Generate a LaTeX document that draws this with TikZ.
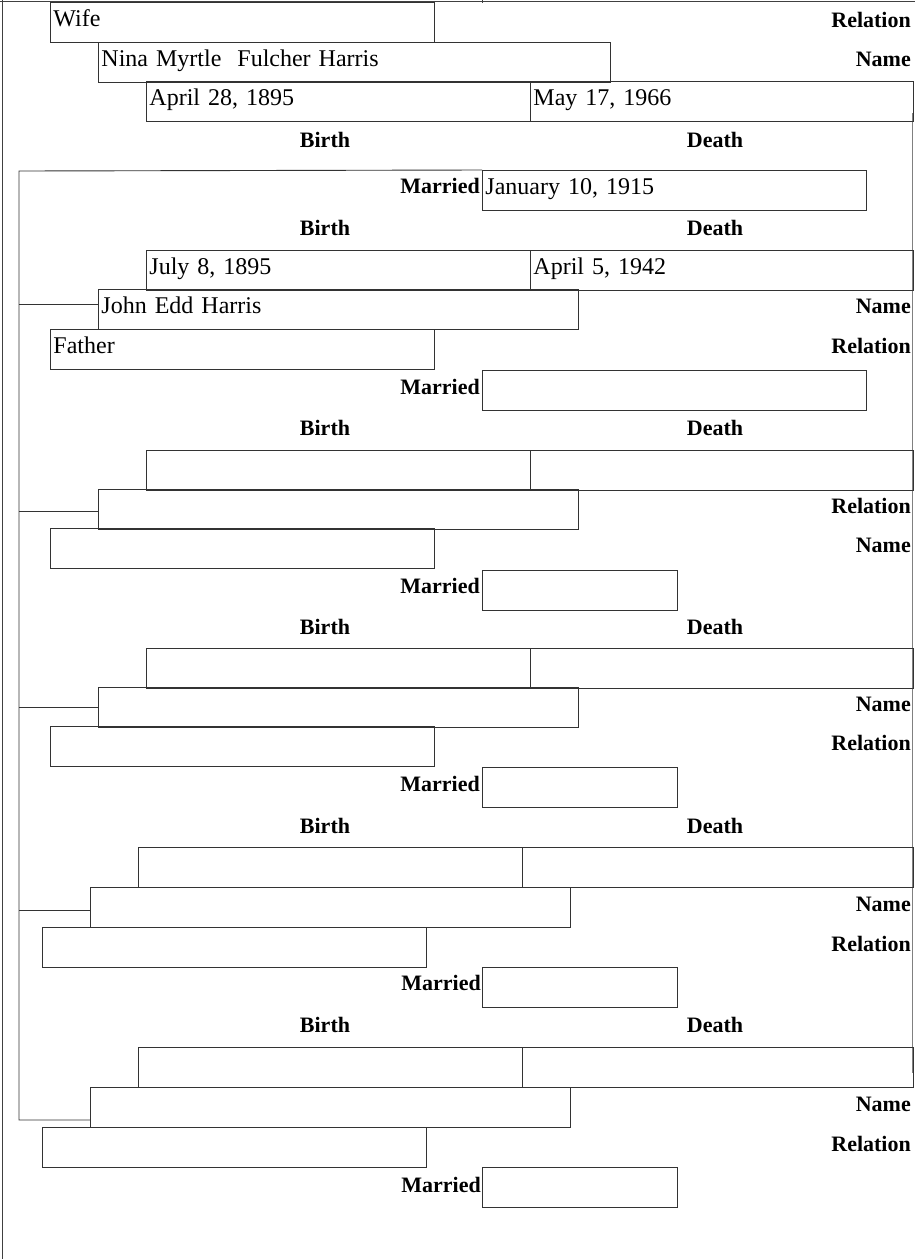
\documentclass[tikz,border=0pt]{standalone}
\usepackage{fontspec}
\setmainfont{Liberation Serif}
\begin{document}
\begin{tikzpicture}[x=1pt,y=-1pt,
 fbox/.style={draw=black!80, line width=0.9pt, anchor=north west, inner xsep=3pt, inner ysep=0pt, minimum height=39.5pt, text height=18pt, text depth=10pt, align=left, font=\fontsize{24}{28}\selectfont},
 lbl/.style={font=\fontsize{22}{26}\selectfont\bfseries, inner sep=0pt},
 rlbl/.style={lbl, anchor=base east},
 clbl/.style={lbl, anchor=base},
 conn/.style={draw=black!80, line width=0.9pt},
 edge/.style={draw=black!75, line width=0.9pt}]
\useasboundingbox (0,0) rectangle (915,1259);
% page edges
\draw[edge] (2,0) -- (2,1259);
\draw[edge] (0,1) -- (915,1);
\draw[edge] (482,0) -- (482,3);
\draw[draw=black!50, line width=1pt] (912,113) -- (912,1073);
% ---- section 1 (wife)
\node[fbox, text width=378pt] (r1) at (50,2) {Wife};
\node[fbox, text width=506pt] (n1) at (98,42) {Nina Myrtle~ Fulcher Harris};
\node[fbox, text width=378pt] (b1) at (146,81) {April 28, 1895};
\node[fbox, text width=377pt] (d1) at (530,81) {May 17, 1966};
\node[rlbl] (lr1) at (911,27) {Relation};
\node[rlbl] (ln1) at (911,66) {Name};
\node[clbl] (lb1) at (325,147) {Birth};
\node[clbl] (ld1) at (715,147) {Death};
\node[fbox, text width=378pt] (m1) at (482,170) {January 10, 1915};
\node[rlbl] (lm1) at (480,193) {Married};
\node[clbl] (lb2) at (325,235) {Birth};
\node[clbl] (ld2) at (715,235) {Death};
% ---- section 2 (father)
\node[fbox, text width=378pt] (b2) at (146,250) {July 8, 1895};
\node[fbox, text width=377pt] (d2) at (530,250) {April 5, 1942};
\node[fbox, text width=474pt] (n2) at (98,289) {John Edd Harris};
\node[fbox, text width=378pt] (r2) at (50,329) {Father};
\node[rlbl] (ln2) at (911,313) {Name};
\node[rlbl] (lr2) at (911,353) {Relation};
\node[fbox, text width=378pt] (m2) at (482,370) {};
\node[rlbl] (lm2) at (480,394) {Married};
\node[clbl] (lb3) at (325,435) {Birth};
\node[clbl] (ld3) at (715,435) {Death};
% ---- section 3
\node[fbox, text width=378pt] (b3) at (146,450) {};
\node[fbox, text width=377pt] (d3) at (530,450) {};
\node[fbox, text width=474pt] (n3) at (98,489) {};
\node[fbox, text width=378pt] (r3) at (50,528) {};
\node[rlbl] (lr3) at (911,513) {Relation};
\node[rlbl] (ln3) at (911,552) {Name};
\node[fbox, text width=189pt] (m3) at (482,570) {};
\node[rlbl] (lm3) at (480,593) {Married};
\node[clbl] (lb4) at (325,634) {Birth};
\node[clbl] (ld4) at (715,634) {Death};
% ---- section 4
\node[fbox, text width=378pt] (b4) at (146,648) {};
\node[fbox, text width=377pt] (d4) at (530,648) {};
\node[fbox, text width=474pt] (n4) at (98,687) {};
\node[fbox, text width=378pt] (r4) at (50,726) {};
\node[rlbl] (ln4) at (911,711) {Name};
\node[rlbl] (lr4) at (911,750) {Relation};
\node[fbox, text width=189pt] (m4) at (482,767) {};
\node[rlbl] (lm4) at (480,791) {Married};
\node[clbl] (lb5) at (325,833) {Birth};
\node[clbl] (ld5) at (715,833) {Death};
% ---- section 5
\node[fbox, text width=378pt] (b5) at (138,847) {};
\node[fbox, text width=385pt] (d5) at (522,847) {};
\node[fbox, text width=474pt] (n5) at (90,887) {};
\node[fbox, text width=378pt] (r5) at (42,927) {};
\node[rlbl] (ln5) at (911,911) {Name};
\node[rlbl] (lr5) at (911,951) {Relation};
\node[fbox, text width=189pt] (m5) at (482,967) {};
\node[rlbl] (lm5) at (481,990) {Married};
\node[clbl] (lb6) at (325,1032) {Birth};
\node[clbl] (ld6) at (715,1032) {Death};
% ---- section 6
\node[fbox, text width=378pt] (b6) at (138,1047) {};
\node[fbox, text width=385pt] (d6) at (522,1047) {};
\node[fbox, text width=474pt] (n6) at (90,1087) {};
\node[fbox, text width=378pt] (r6) at (42,1127) {};
\node[rlbl] (ln6) at (911,1111) {Name};
\node[rlbl] (lr6) at (911,1151) {Relation};
\node[fbox, text width=189pt] (m6) at (482,1167) {};
\node[rlbl] (lm6) at (481,1192) {Married};
% ---- connectors (trunk and branches)
\coordinate (trunk) at (19,171);
\coordinate (trunkend) at (19,1120);
\draw[conn] (m1.north west) -- (trunk) -- (trunkend) -- (trunkend -| n6.west);
\draw[conn] ([yshift=5pt]n2.west) -- ([yshift=5pt]n2.west -| trunk);
\draw[conn] ([yshift=-2pt]n3.west) -- ([yshift=-2pt]n3.west -| trunk);
\draw[conn] (n4.west) -- (n4.west -| trunk);
\draw[conn] ([yshift=-3pt]n5.west) -- ([yshift=-3pt]n5.west -| trunk);
\end{tikzpicture}
\end{document}
